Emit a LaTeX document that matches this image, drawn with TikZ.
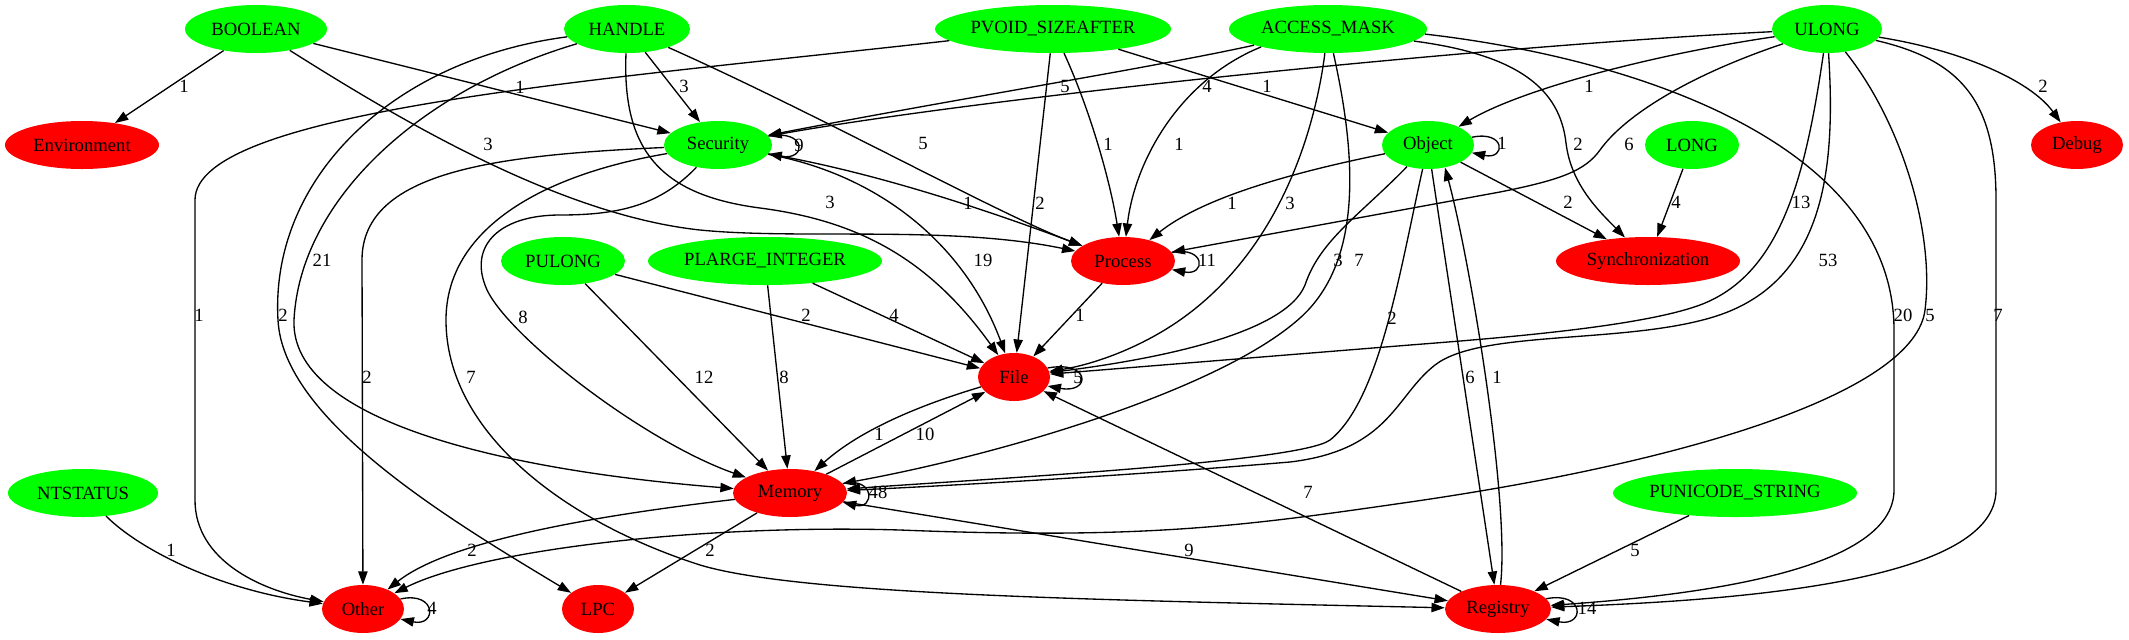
\documentclass[tikz,border=0pt]{standalone}
\usepackage{fontspec}
\setmainfont{Liberation Serif}
\usetikzlibrary{arrows.meta,shapes.geometric}
\begin{document}
\begin{tikzpicture}[x=0.75bp,y=-0.75bp,
  nd/.style={ellipse,inner sep=0pt,minimum height=36bp,font=\fontsize{14bp}{16bp}\selectfont},
  gnode/.style={nd,fill=green},
  rnode/.style={nd,fill=red},
  edg/.style={draw=black,line width=1bp,-{Triangle[length=10bp,width=7bp]}},
  lbl/.style={inner sep=0pt,font=\fontsize{14bp}{16bp}\selectfont}]
\useasboundingbox[fill=white] (0,0) rectangle (2129,639);
% nodes
\node[gnode,minimum width=106.5bp] (BOOLEAN) at (256,29) {BOOLEAN};
\node[gnode,minimum width=94.5bp] (HANDLE) at (627,29) {HANDLE};
\node[gnode,minimum width=177bp] (PVOID) at (1053,29) {PVOID\_SIZEAFTER};
\node[gnode,minimum width=148.5bp] (ACCESS) at (1328,29) {ACCESS\_MASK};
\node[gnode,minimum width=82.5bp] (ULONG) at (1827,29) {ULONG};
\node[rnode,minimum width=115.5bp] (Environment) at (82,145) {Environment};
\node[gnode,minimum width=81bp] (Security) at (718,145) {Security};
\node[gnode,minimum width=69bp] (Object) at (1428,145) {Object};
\node[gnode,minimum width=70.5bp] (LONG) at (1692,145) {LONG};
\node[rnode,minimum width=69bp] (Debug) at (2077,145) {Debug};
\node[gnode,minimum width=93bp] (PULONG) at (563,261) {PULONG};
\node[gnode,minimum width=175.5bp] (PLARGE) at (765,261) {PLARGE\_INTEGER};
\node[rnode,minimum width=78bp] (Process) at (1123,261) {Process};
\node[rnode,minimum width=138bp] (Sync) at (1648,261) {Synchronization};
\node[rnode,minimum width=54bp] (File) at (1014,377) {File};
\node[gnode,minimum width=112.5bp] (NTSTATUS) at (83,493) {NTSTATUS};
\node[rnode,minimum width=85.5bp] (Memory) at (790,493) {Memory};
\node[gnode,minimum width=183bp] (PUNICODE) at (1735,493) {PUNICODE\_STRING};
\node[rnode,minimum width=61.5bp] (Other) at (363,609) {Other};
\node[rnode,minimum width=54bp] (LPC) at (598,609) {LPC};
\node[rnode,minimum width=79.5bp] (Registry) at (1498,609) {Registry};
% edges
\draw[edg] (BOOLEAN) -- (Environment);
\draw[edg] (BOOLEAN) -- (Security);
\draw[edg] (BOOLEAN) .. controls (400,120) and (560,215) .. (700,230) .. controls (800,240) and (950,225) .. (Process);
\draw[edg] (HANDLE) -- (Security);
\draw[edg] (HANDLE) .. controls (820,115) and (1000,215) .. (Process);
\draw[edg] (HANDLE) .. controls (622,150) and (660,195) .. (760,208) .. controls (860,221) and (930,260) .. (File);
\draw[edg] (HANDLE) .. controls (420,90) and (300,200) .. (294,320) .. controls (290,420) and (500,470) .. (Memory);
\draw[edg] (HANDLE) .. controls (390,60) and (270,180) .. (278,320) .. controls (283,420) and (450,520) .. (LPC);
\draw[edg] (PVOID) .. controls (600,80) and (195,110) .. (195,200) -- (195,500) .. controls (195,560) and (260,590) .. (Other);
\draw[edg] (PVOID) -- (File);
\draw[edg] (PVOID) .. controls (1090,110) and (1110,180) .. (Process);
\draw[edg] (PVOID) -- (Object);
\draw[edg] (ACCESS) .. controls (1150,68) and (950,100) .. (Security);
\draw[edg] (ULONG) .. controls (1500,45) and (1000,95) .. (Security);
\draw[edg] (ACCESS.195) .. controls (1180,80) and (1135,160) .. (Process);
\draw[edg] (ACCESS.-8) .. controls (1520,55) and (1560,90) .. (1566,143) .. controls (1571,185) and (1600,212) .. (Sync);
\draw[edg] (ACCESS) .. controls (1315,130) and (1280,250) .. (1180,320) .. controls (1137,350) and (1090,365) .. (File);
\draw[edg] (ACCESS) .. controls (1355,150) and (1365,260) .. (1300,318) .. controls (1220,390) and (1000,455) .. (Memory);
\draw[edg] (ACCESS.-3) .. controls (1650,60) and (1894,150) .. (1894,330) -- (1894,490) .. controls (1894,570) and (1700,595) .. (Registry);
\draw[edg] (ULONG) .. controls (1650,55) and (1520,90) .. (Object);
\draw[edg] (ULONG) .. controls (1690,75) and (1625,115) .. (1600,150) .. controls (1585,171) and (1560,180) .. (1500,192) -- (Process);
\draw[edg] (ULONG) .. controls (1805,180) and (1780,275) .. (1700,305) .. controls (1640,327) and (1500,338) .. (1410,345) -- (File);
\draw[edg] (ULONG) .. controls (1836,170) and (1825,285) .. (1710,318) .. controls (1620,344) and (1480,330) .. (1435,365) .. controls (1395,396) and (1390,450) .. (1290,462) .. controls (1100,478) and (900,488) .. (Memory);
\draw[edg] (ULONG) .. controls (1900,120) and (1935,230) .. (1925,310) .. controls (1915,390) and (1700,460) .. (1410,502) .. controls (1250,525) and (1150,540) .. (900,530) .. controls (700,524) and (480,550) .. (Other);
\draw[edg] (ULONG) .. controls (1960,60) and (1996,100) .. (1996,200) -- (1996,490) .. controls (1996,580) and (1750,600) .. (Registry);
\draw[edg] (ULONG) .. controls (1960,50) and (2030,80) .. (Debug);
\draw[edg] (LONG) -- (Sync);
\draw[edg] (Object.10) .. controls (1506,130) and (1506,160) .. (Object.-10);
\draw[edg] (Object) .. controls (1280,175) and (1200,200) .. (Process);
\draw[edg] (Object) -- (Sync);
\draw[edg] (Object) .. controls (1360,215) and (1320,240) .. (1305,285) .. controls (1285,335) and (1150,360) .. (File);
\draw[edg] (Object) .. controls (1400,270) and (1380,400) .. (1330,440) .. controls (1300,462) and (1000,478) .. (Memory);
\draw[edg] (Object) -- (Registry);
\draw[edg] (Registry.84) .. controls (1510,500) and (1470,260) .. (Object.-53);
\draw[edg] (PULONG) -- (File);
\draw[edg] (PULONG) -- (Memory);
\draw[edg] (PLARGE) -- (File);
\draw[edg] (PLARGE) -- (Memory);
\draw[edg] (Security.10) .. controls (807,129) and (807,161) .. (Security.-10);
\draw[edg] (Security) .. controls (860,170) and (960,200) .. (Process);
\draw[edg] (Security) .. controls (880,175) and (965,245) .. (File);
\draw[edg] (Security) .. controls (500,155) and (362,170) .. (362,260) -- (Other);
\draw[edg] (Security) .. controls (660,205) and (620,215) .. (560,215) .. controls (500,215) and (470,245) .. (485,285) .. controls (500,330) and (640,440) .. (Memory);
\draw[edg] (Security) .. controls (540,175) and (446,230) .. (446,320) .. controls (446,430) and (560,520) .. (700,565) .. controls (800,595) and (1100,600) .. (Registry);
\draw[edg] (Process.10) .. controls (1206,246) and (1206,276) .. (Process.-10);
\draw[edg] (Process) -- (File);
\draw[edg] (File.15) .. controls (1091,360) and (1091,394) .. (File.-15);
\draw[edg] (File) .. controls (920,405) and (860,430) .. (Memory);
\draw[edg] (Memory) -- (File);
\draw[edg] (Memory.10) .. controls (875,476) and (875,510) .. (Memory.-10);
\draw[edg] (Memory) .. controls (600,515) and (450,540) .. (Other);
\draw[edg] (Memory) -- (LPC);
\draw[edg] (Memory) -- (Registry);
\draw[edg] (NTSTATUS) .. controls (140,550) and (220,590) .. (Other);
\draw[edg] (PUNICODE) -- (Registry);
\draw[edg] (Registry) -- (File);
\draw[edg] (Registry.12) .. controls (1585,591) and (1585,627) .. (Registry.-12);
\draw[edg] (Other.15) .. controls (437,591) and (437,627) .. (Other.-15);
% labels
\node[lbl] (L01) at (184,86) {1};
\node[lbl] (L02) at (520,87) {1};
\node[lbl] (L03) at (684,86) {3};
\node[lbl] (L04) at (1065,86) {5};
\node[lbl] (L05) at (1207,86) {4};
\node[lbl] (L06) at (1267,86) {1};
\node[lbl] (L07) at (1589,86) {1};
\node[lbl] (L08) at (2043,86) {2};
\node[lbl] (L09) at (488,144) {3};
\node[lbl] (L10) at (799,145) {9};
\node[lbl] (L11) at (923,143) {5};
\node[lbl] (L12) at (1108,144) {1};
\node[lbl] (L13) at (1179,144) {1};
\node[lbl] (L14) at (1502,143) {1};
\node[lbl] (L15) at (1578,144) {2};
\node[lbl] (L16) at (1629,144) {6};
\node[lbl] (L17) at (830,202) {3};
\node[lbl] (L18) at (968,203) {1};
\node[lbl] (L19) at (1040,203) {2};
\node[lbl] (L20) at (1232,203) {1};
\node[lbl] (L21) at (1290,203) {3};
\node[lbl] (L22) at (1568,202) {2};
\node[lbl] (L23) at (1676,202) {4};
\node[lbl] (L24) at (1801,202) {13};
\node[lbl] (L25) at (322,260) {21};
\node[lbl] (L26) at (983,260) {19};
\node[lbl] (L27) at (1207,260) {11};
\node[lbl] (L28) at (1338,260) {3};
\node[lbl] (L29) at (1359,260) {7};
\node[lbl] (L30) at (1828,260) {53};
\node[lbl] (L31) at (199,315) {1};
\node[lbl] (L32) at (283,315) {2};
\node[lbl] (L33) at (523,317) {8};
\node[lbl] (L34) at (806,315) {2};
\node[lbl] (L35) at (894,315) {4};
\node[lbl] (L36) at (1080,315) {1};
\node[lbl] (L37) at (1392,318) {2};
\node[lbl] (L38) at (1903,315) {20};
\node[lbl] (L39) at (1930,315) {5};
\node[lbl] (L40) at (1998,315) {7};
\node[lbl] (L41) at (367,377) {2};
\node[lbl] (L42) at (471,377) {7};
\node[lbl] (L43) at (704,377) {12};
\node[lbl] (L44) at (784,377) {8};
\node[lbl] (L45) at (1078,377) {5};
\node[lbl] (L46) at (1470,377) {6};
\node[lbl] (L47) at (1497,377) {1};
\node[lbl] (L48) at (879,434) {1};
\node[lbl] (L49) at (925,434) {10};
\node[lbl] (L50) at (878,492) {48};
\node[lbl] (L51) at (1308,492) {7};
\node[lbl] (L52) at (171,550) {1};
\node[lbl] (L53) at (472,550) {2};
\node[lbl] (L54) at (710,550) {2};
\node[lbl] (L55) at (1189,550) {9};
\node[lbl] (L56) at (1635,550) {5};
\node[lbl] (L57) at (432,608) {4};
\node[lbl] (L58) at (1587,608) {14};
\end{tikzpicture}
\end{document}
